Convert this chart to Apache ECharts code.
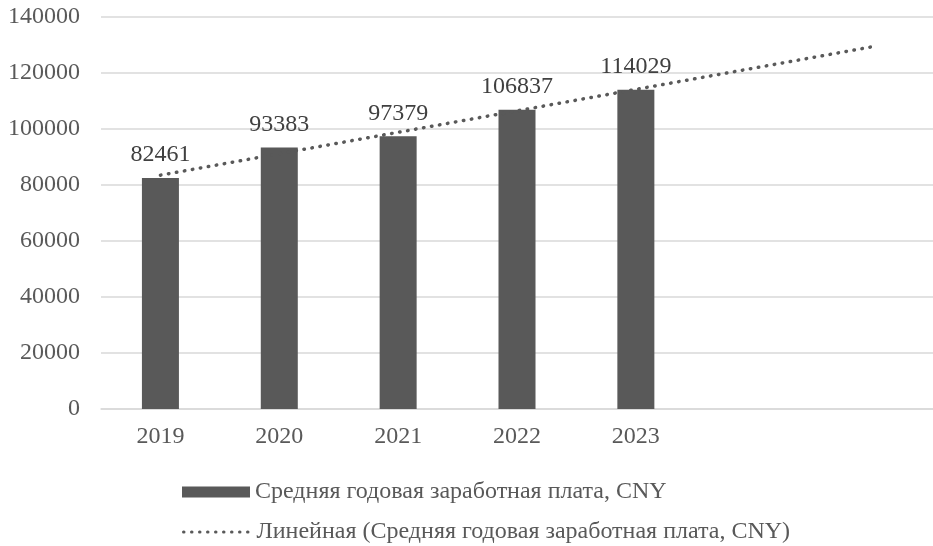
<!DOCTYPE html>
<html>
<head>
<meta charset="utf-8">
<script src="https://cdn.jsdelivr.net/npm/echarts@6/dist/echarts.min.js"></script>
<style>
  html, body { margin: 0; padding: 0; background: #fff; }
  #chart { width: 933px; height: 546px; }
</style>
</head>
<body>
<div id="chart"></div>
<script>
// Average annual wage, CNY, by year
const years = ['2019', '2020', '2021', '2022', '2023'];
const wages = [82461, 93383, 97379, 106837, 114029];
// Two extra periods for the forecast part of the linear trend
const forecastPeriods = 2;
const yTicks = { min: 0, max: 140000, interval: 20000 };

const barName = 'Средняя годовая заработная плата, CNY';
const trendName = 'Линейная (Средняя годовая заработная плата, CNY)';

// Least-squares linear trend over the observed years, extended forward
function linearTrend(values, extra) {
  const n = values.length;
  let sx = 0, sy = 0, sxy = 0, sxx = 0;
  values.forEach((v, i) => { const x = i + 1; sx += x; sy += v; sxy += x * v; sxx += x * x; });
  const slope = (n * sxy - sx * sy) / (n * sxx - sx * sx);
  const intercept = (sy - slope * sx) / n;
  const out = [];
  for (let i = 1; i <= n + extra; i++) out.push(+(intercept + slope * i).toFixed(1));
  return out;
}

const categories = years.concat(new Array(forecastPeriods).fill(''));
const trend = linearTrend(wages, forecastPeriods);

const serif = '"Liberation Serif", "Times New Roman", serif';
const grey = '#595959';
const fontSize = 24;
const legendText = { fontFamily: serif, fontSize: fontSize, color: grey };
const chart = echarts.init(document.getElementById('chart'), null, { renderer: 'canvas' });

chart.setOption({
  animation: false,
  textStyle: { fontFamily: serif },
  grid: { left: 101, top: 17, width: 840, height: 392, containLabel: false },
  legend: [
    {
      left: 182,
      top: 480,
      padding: 0,
      itemWidth: 68,
      itemHeight: 11,
      textStyle: legendText,
      data: [{ name: barName, icon: 'rect' }]
    },
    {
      left: 182,
      top: 520,
      padding: 0,
      itemWidth: 68,
      itemHeight: 11,
      textStyle: legendText,
      data: [{
        name: trendName,
        itemStyle: { opacity: 0 },
        lineStyle: { width: 3, type: [0.5, 7.5], cap: 'round', color: grey }
      }]
    }
  ],
  xAxis: {
    type: 'category',
    data: categories,
    axisLine: { lineStyle: { color: '#d9d9d9', width: 1.5 } },
    axisTick: { show: false },
    axisLabel: { fontFamily: serif, fontSize: fontSize, color: grey, margin: 16 }
  },
  yAxis: {
    type: 'value',
    min: yTicks.min,
    max: yTicks.max,
    interval: yTicks.interval,
    axisLine: { show: false },
    axisTick: { show: false },
    splitLine: { lineStyle: { color: '#d9d9d9', width: 1.5 } },
    axisLabel: {
      fontFamily: serif, fontSize: fontSize, color: grey, margin: 21,
      formatter: (v) => String(v)
    }
  },
  series: [
    {
      name: barName,
      type: 'bar',
      data: wages,
      barWidth: 37,
      itemStyle: { color: grey },
      label: {
        show: true,
        position: 'top',
        distance: 11,
        fontFamily: serif,
        fontSize: fontSize,
        color: '#404040'
      },
      z: 2
    },
    {
      name: trendName,
      type: 'line',
      data: trend,
      symbol: 'none',
      lineStyle: { color: grey, width: 3.5, type: [0.5, 7.6], cap: 'round' },
      itemStyle: { color: grey },
      z: 3
    }
  ]
});
</script>
</body>
</html>
